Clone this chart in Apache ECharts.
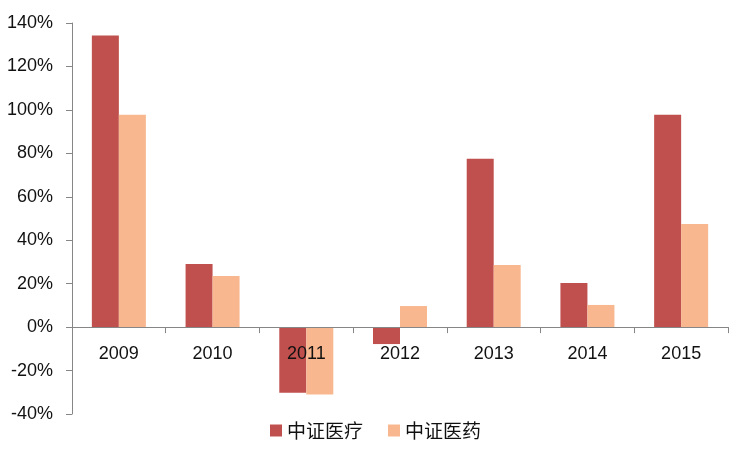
<!DOCTYPE html>
<html><head><meta charset="utf-8">
<script src="https://cdn.jsdelivr.net/npm/echarts@6/dist/echarts.min.js"></script>
<style>html,body{margin:0;padding:0;background:#fff}#c{width:751px;height:450px}</style>
</head><body><div id="c"></div>
<script>
const categories = ['2009','2010','2011','2012','2013','2014','2015'];
const seriesNames = ['中证医疗','中证医药'];
const medical = [134.2, 29.1, -30.2, -7.8, 77.5, 20.3, 97.8];
const pharma = [97.8, 23.5, -31.0, 9.7, 28.6, 10.2, 47.5];
const yTicks = {min: -40, max: 140, interval: 20};

const chart = echarts.init(document.getElementById('c'), null, {renderer: 'canvas'});
const axisColor = '#868686';
const font = '"Liberation Sans", Arial, sans-serif';
const gridBottom = 36;
chart.setOption({
  animation: false,
  grid: {left: 72, right: 23, top: 23, bottom: gridBottom, containLabel: false},
  legend: {
    bottom: 5, left: 'center', itemWidth: 12, itemHeight: 12, itemGap: 25,
    icon: 'rect',
    textStyle: {fontSize: 19, color: '#111', fontFamily: '"Noto Sans CJK SC", sans-serif'},
    data: seriesNames
  },
  xAxis: {
    type: 'category', data: categories, z: 10, position: 'bottom',
    axisLine: {onZero: false, lineStyle: {color: axisColor, width: 1}},
    axisTick: {show: true, inside: false, length: 6, lineStyle: {color: axisColor}},
    axisLabel: {fontSize: 18, color: '#111', fontFamily: font, margin: 18}
  },
  yAxis: {
    type: 'value', min: yTicks.min, max: yTicks.max, interval: yTicks.interval,
    splitLine: {show: false},
    axisLine: {show: true, lineStyle: {color: axisColor}},
    axisTick: {show: true, length: 6, lineStyle: {color: axisColor}},
    axisLabel: {fontSize: 18, color: '#111', fontFamily: font, margin: 19, formatter: '{value}%'}
  },
  series: [
    {name: seriesNames[0], type: 'bar', data: medical, barWidth: 27, barGap: '0%', itemStyle: {color: '#C0504D'}},
    {name: seriesNames[1], type: 'bar', data: pharma, barWidth: 27, barGap: '0%', itemStyle: {color: '#F9B78F'}}
  ]
});
// move the category axis (line, ticks and labels) up to the zero line, as in the source chart
const zeroY = chart.convertToPixel({yAxisIndex: 0}, 0);
const minY = chart.convertToPixel({yAxisIndex: 0}, yTicks.min);
chart.setOption({xAxis: {offset: -(minY - zeroY)}});
</script></body></html>
